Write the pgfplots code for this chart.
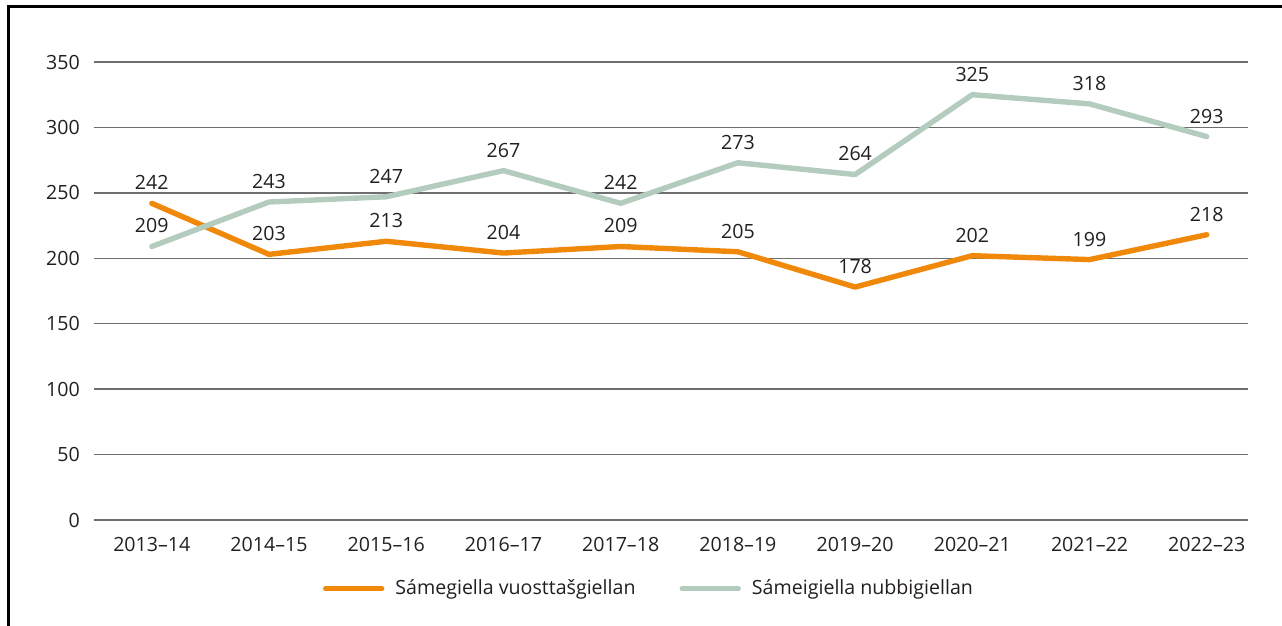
\documentclass[border=0pt]{standalone}
\usepackage{pgfplots}
\pgfplotsset{compat=1.18}
\usepackage{fontspec}
\setmainfont{Open Sans}
\definecolor{sorange}{RGB}{240,136,10}
\definecolor{sgreen}{RGB}{180,204,190}
\definecolor{gridc}{RGB}{110,110,110}
\definecolor{txt}{RGB}{35,31,32}
\begin{document}
\begin{tikzpicture}[x=1pt,y=1pt]
\useasboundingbox (0,0) rectangle (641,313);
\draw[line width=1.5pt,black] (4,0) -- (4,309.5) -- (641,309.5);
\begin{axis}[
  at={(80,81)}, anchor=south west,
  scale only axis, width=577pt, height=229pt,
  xmin=-0.495, xmax=9.35, ymin=0, ymax=350,
  axis line style={draw=none},
  ytick={0,50,...,350},
  xtick={0,...,9},
  xticklabels={2013--14,2014--15,2015--16,2016--17,2017--18,2018--19,2019--20,2020--21,2021--22,2022--23},
  tick style={draw=none},
  ymajorgrids, grid style={gridc, line width=0.7pt},
  every tick label/.append style={font=\fontsize{9.8}{11}\selectfont, text=txt},
  yticklabel style={xshift=-3.5pt},
  xticklabel style={yshift=-5pt},
  /pgf/number format/assume math mode=true,
  nodes near coords,
  every node near coord/.append style={font=\fontsize{9.8}{11}\selectfont, text=txt, yshift=2pt},
  legend style={at={(0.482,-0.150)}, anchor=center, draw=none, legend columns=2,
    font=\fontsize{9.8}{11}\selectfont, text=txt,
    /tikz/every odd column/.append style={column sep=3.5pt},
    /tikz/every even column/.append style={column sep=20pt}},
  legend image code/.code={\draw[#1, line cap=round] (0pt,0pt) -- (28pt,0pt);},
  clip=false,
]
\addplot[sorange, line width=2.7pt, line join=round, line cap=round] coordinates {
(0,242) (1,203) (2,213) (3,204) (4,209) (5,205) (6,178) (7,202) (8,199) (9,218)};
\addlegendentry{Sámegiella vuosttašgiellan}
\addplot[sgreen, line width=2.7pt, line join=round, line cap=round] coordinates {
(0,209) (1,243) (2,247) (3,267) (4,242) (5,273) (6,264) (7,325) (8,318) (9,293)};
\addlegendentry{Sámeigiella nubbigiellan}
\end{axis}
\end{tikzpicture}
\end{document}
